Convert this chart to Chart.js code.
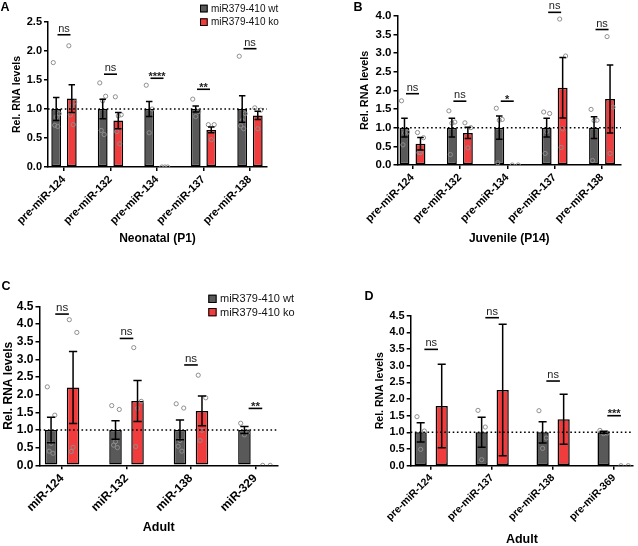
<!DOCTYPE html>
<html><head><meta charset="utf-8">
<script src="https://cdn.jsdelivr.net/npm/chart.js@4.4.1/dist/chart.umd.min.js"></script>
<style>
html,body{margin:0;padding:0;background:#fff;}
#wrap{position:relative;width:638px;height:546px;overflow:hidden;}
canvas{position:absolute;left:0;top:0;}
</style></head><body>
<div id="wrap">
<canvas id="cA" width="638" height="546"></canvas>
<canvas id="cB" width="638" height="546"></canvas>
<canvas id="cC" width="638" height="546"></canvas>
<canvas id="cD" width="638" height="546"></canvas>
</div>
<script>
// ---------------- DATA ----------------
const legendLabels = ['miR379-410 wt', 'miR379-410 ko'];
const yTitle = 'Rel. RNA levels';

// Panel A – Neonatal (P1)
const catsA = ['pre-miR-124', 'pre-miR-132', 'pre-miR-134', 'pre-miR-137', 'pre-miR-138'];
const wtMeanA = [1.0, 1.0, 1.0, 1.0, 1.0];
const koMeanA = [1.18, 0.80, 0.0, 0.64, 0.89];
const wtSemA = [0.20, 0.17, 0.13, 0.05, 0.23];
const koSemA = [0.24, 0.14, 0.0, 0.05, 0.07];
const wtPtsA = [[1.80, 0.92, 0.86, 0.72, 0.70], [1.45, 1.22, 1.14, 0.63, 0.56], [1.41, 1.00, 0.59], [1.17, 0.96, 0.87], [1.91, 0.92, 0.80, 0.71, 0.66]];
const koPtsA = [[2.09, 1.12, 1.05, 0.90, 0.73], [1.21, 0.90, 0.88, 0.61, 0.40], [0, 0, 0], [0.73, 0.73, 0.47], [1.02, 0.98, 0.66]];
const sigA = ['ns', 'ns', '****', '**', 'ns'];
const sigLevelA = [2.28, 1.60, 1.53, 1.34, 2.04];

// Panel B – Juvenile (P14)
const catsB = ['pre-miR-124', 'pre-miR-132', 'pre-miR-134', 'pre-miR-137', 'pre-miR-138'];
const wtMeanB = [1.0, 1.0, 1.0, 1.0, 1.0];
const koMeanB = [0.57, 0.86, 0.0, 2.07, 1.77];
const wtSemB = [0.25, 0.25, 0.31, 0.25, 0.29];
const koSemB = [0.17, 0.15, 0.0, 0.81, 0.91];
const wtPtsB = [[1.72, 0.88, 0.86, 0.54], [1.45, 1.15, 1.12, 0.28], [1.52, 1.22, 1.20, 0.06], [1.42, 1.38, 0.89, 0.31], [1.49, 1.20, 1.19, 0.12]];
const koPtsB = [[0.87, 0.73, 0.33, 0.33], [1.13, 1.00, 0.46], [0, 0], [3.91, 2.92, 0.97, 0.47], [3.44, 1.55, 0.31]];
const sigB = ['ns', 'ns', '*', 'ns', 'ns'];
const sigLevelB = [1.91, 1.71, 1.71, 4.09, 3.63];

// Panel C – Adult (mature miRNAs)
const catsC = ['miR-124', 'miR-132', 'miR-138', 'miR-329'];
const wtMeanC = [1.0, 1.0, 1.0, 1.0];
const koMeanC = [2.20, 1.82, 1.54, 0.0];
const wtSemC = [0.36, 0.26, 0.28, 0.10];
const koSemC = [1.02, 0.58, 0.42, 0.0];
const wtPtsC = [[2.22, 1.42, 0.62, 0.40, 0.34], [1.69, 1.58, 0.67, 0.57, 0.50], [1.74, 1.62, 0.70, 0.54, 0.40], [1.19, 0.95, 0.86]];
const koPtsC = [[4.12, 3.76, 0.51, 0.39], [3.33, 1.81, 1.61, 0.53], [2.55, 1.91, 0.99, 0.70], [0, 0]];
const sigC = ['ns', 'ns', 'ns', '**'];
const sigLevelC = [4.28, 3.59, 2.84, 1.61];

// Panel D – Adult (pre-miRNAs)
const catsD = ['pre-miR-124', 'pre-miR-137', 'pre-miR-138', 'pre-miR-369'];
const wtMeanD = [1.0, 1.0, 1.0, 1.0];
const koMeanD = [1.79, 2.27, 1.39, 0.0];
const wtSemD = [0.29, 0.45, 0.32, 0.03];
const koSemD = [1.25, 1.97, 0.75, 0.0];
const wtPtsD = [[1.47, 1.04, 0.49], [1.66, 1.16, 0.18], [1.65, 0.83, 0.52], [1.06, 0.98, 0.96]];
const koPtsD = [[], [], [], [0, 0]];
const sigD = ['ns', 'ns', 'ns', '***'];
const sigLevelD = [3.49, 4.44, 2.54, 1.50];

// ---------------- STYLE ----------------
const FAM = "'Liberation Sans', Arial, Helvetica, sans-serif";
const WT_COLOR = '#595959';
const KO_COLOR = '#f03c3c';
const PT_COLOR = '#8e8e8e';
const W = 638, H = 546;

function buildPanel(id, p) {
  const cp = p.catPct, bp = p.barPct;
  const side = cp / 4;
  const bwU = cp * bp / 2;
  const jit = [-0.3, 0.3, 0, -0.15, 0.15];
  const pts = (arr, sgn) => arr.flatMap((vals, i) => vals.map((v, k) => ({x: i + sgn * side + jit[k % jit.length] * bwU, y: v})));
  const lhY = p.yTitleSize * 1.2, lhX = p.xTitleSize * 1.2;
  const box = p.box;

  const overlay = {
    id: 'overlay' + id,
    afterDatasetsDraw(chart) {
      const ctx = chart.ctx, ys = chart.scales.y, ca = chart.chartArea;
      ctx.save();
      ctx.strokeStyle = '#000';
      ctx.lineWidth = 1.5;
      [[p.wtMean, p.wtSem], [p.koMean, p.koSem]].forEach(([m, s], d) => {
        chart.getDatasetMeta(d).data.forEach((el, i) => {
          if (!s[i]) return;
          const x = el.x, half = el.width * 0.33;
          const t = ys.getPixelForValue(m[i] + s[i]);
          const b = ys.getPixelForValue(Math.max(0, m[i] - s[i]));
          ctx.beginPath();
          ctx.moveTo(x, t); ctx.lineTo(x, b);
          ctx.moveTo(x - half, t); ctx.lineTo(x + half, t);
          ctx.moveTo(x - half, b); ctx.lineTo(x + half, b);
          ctx.stroke();
        });
      });
      const y1 = ys.getPixelForValue(1);
      ctx.setLineDash([1.6, 2.6]);
      ctx.beginPath();
      ctx.moveTo(ca.left, y1); ctx.lineTo(ca.right, y1);
      ctx.stroke();
      ctx.restore();
    },
    afterDraw(chart) {
      const ctx = chart.ctx, ys = chart.scales.y, xs = chart.scales.x;
      ctx.save();
      // significance bars
      p.sig.forEach((txt, i) => {
        const cx = xs.getPixelForValue(i);
        const y = ys.getPixelForValue(p.sigLevel[i]);
        ctx.strokeStyle = '#000';
        ctx.lineWidth = 1.6;
        ctx.beginPath();
        ctx.moveTo(cx - p.sigHalf, y); ctx.lineTo(cx + p.sigHalf, y);
        ctx.stroke();
        ctx.fillStyle = '#222';
        ctx.textAlign = 'center';
        ctx.textBaseline = 'alphabetic';
        if (txt.indexOf('*') >= 0) {
          ctx.font = 'bold ' + p.starSize + 'px ' + FAM;
          ctx.fillText(txt, cx, y + 1.5);
        } else {
          ctx.font = p.nsSize + 'px ' + FAM;
          ctx.fillText(txt, cx, y - 3);
        }
      });
      // legend
      if (p.legend) {
        const L = p.legend;
        [WT_COLOR, KO_COLOR].forEach((c, k) => {
          const yy = L.y + k * L.gap;
          ctx.fillStyle = c;
          ctx.fillRect(L.x, yy, L.size, L.size);
          ctx.strokeStyle = '#000';
          ctx.lineWidth = 1;
          ctx.strokeRect(L.x + 0.5, yy + 0.5, L.size - 1, L.size - 1);
          ctx.fillStyle = '#111';
          ctx.font = L.font + 'px ' + FAM;
          ctx.textAlign = 'left';
          ctx.textBaseline = 'middle';
          ctx.fillText(chart.data.datasets[k].label, L.tx, yy + L.size / 2 + 0.5);
        });
      }
      // panel letter
      ctx.fillStyle = '#000';
      ctx.font = 'bold 12.5px ' + FAM;
      ctx.textAlign = 'center';
      ctx.textBaseline = 'middle';
      ctx.fillText(p.letter, p.letterPos[0], p.letterPos[1]);
      ctx.restore();
    }
  };

  return new Chart(document.getElementById(id), {
    type: 'bar',
    data: {
      datasets: [
        {type: 'bar', label: legendLabels[0], data: p.wtMean.map((v, i) => ({x: i, y: v})),
         backgroundColor: WT_COLOR, borderColor: '#000', borderWidth: 1.5, borderSkipped: false,
         categoryPercentage: cp, barPercentage: bp, order: 3},
        {type: 'bar', label: legendLabels[1], data: p.koMean.map((v, i) => ({x: i, y: v})),
         backgroundColor: KO_COLOR, borderColor: '#000', borderWidth: 1.5, borderSkipped: false,
         categoryPercentage: cp, barPercentage: bp, order: 3},
        {type: 'scatter', label: 'wt points', data: pts(p.wtPts, -1), pointRadius: 2.1,
         pointBorderWidth: 1, pointBorderColor: PT_COLOR, pointBackgroundColor: 'rgba(0,0,0,0)', order: 1},
        {type: 'scatter', label: 'ko points', data: pts(p.koPts, 1), pointRadius: 2.1,
         pointBorderWidth: 1, pointBorderColor: PT_COLOR, pointBackgroundColor: 'rgba(0,0,0,0)', order: 1}
      ]
    },
    options: {
      responsive: false, animation: false, devicePixelRatio: 1,
      events: [],
      layout: {padding: {left: p.padLeft, right: W - box.right, top: box.top, bottom: 0}},
      plugins: {legend: {display: false}, tooltip: {enabled: false}},
      scales: {
        x: {
          type: 'linear', min: p.xMin, max: p.xMax, offset: false, bounds: 'data',
          afterBuildTicks: s => { s.ticks = p.cats.map((c, i) => ({value: i})); },
          afterFit: s => { s.height = H - box.bottom; },
          grid: {display: true, drawOnChartArea: false, drawTicks: true, tickLength: 4, color: '#000', lineWidth: 1.5, offset: false},
          border: {display: true, color: '#000', width: 1.5},
          ticks: {autoSkip: false, minRotation: 45, maxRotation: 45, padding: 2, color: '#000',
                  font: {family: FAM, size: p.xTickSize, weight: 'bold'},
                  callback: v => (p.cats[v] !== undefined ? p.cats[v] : '')},
          title: {display: true, text: p.xTitle, color: '#000',
                  font: {family: FAM, size: p.xTitleSize, weight: 'bold', lineHeight: 1.2},
                  padding: {top: 0, bottom: H - lhX / 2 - p.xTitleY}}
        },
        y: {
          min: 0, max: p.yMax,
          afterFit: s => { s.width = box.left - p.padLeft; },
          grid: {display: true, drawOnChartArea: false, drawTicks: true, tickLength: 4, color: '#000', lineWidth: 1.5},
          border: {display: true, color: '#000', width: 1.5},
          ticks: {autoSkip: false, stepSize: 0.5, padding: 2, color: '#000', font: {family: FAM, size: p.yTickSize, weight: 'bold'},
                  callback: v => Number(v).toFixed(1)},
          title: {display: true, text: yTitle, color: '#000',
                  font: {family: FAM, size: p.yTitleSize, weight: 'bold', lineHeight: 1.2},
                  padding: {top: p.yTitleX - p.padLeft - lhY / 2, bottom: 0}}
        }
      }
    },
    plugins: [overlay]
  });
}

buildPanel('cA', {
  cats: catsA, wtMean: wtMeanA, koMean: koMeanA, wtSem: wtSemA, koSem: koSemA,
  wtPts: wtPtsA, koPts: koPtsA, sig: sigA, sigLevel: sigLevelA,
  yMax: 2.5, xMin: -0.344, xMax: 4.366, catPct: 0.67, barPct: 0.63,
  box: {left: 48, right: 267, top: 22, bottom: 167}, padLeft: 0,
  yTitleX: 17, xTitleY: 239, xTitle: 'Neonatal (P1)',
  xTickSize: 11, yTickSize: 11, yTitleSize: 10.5, xTitleSize: 12,
  nsSize: 11, starSize: 11, sigHalf: 6.5,
  legend: {x: 200, y: 4.7, size: 7.7, gap: 13.6, tx: 211, font: 10},
  letter: 'A', letterPos: [5, 7.5]
});

buildPanel('cB', {
  cats: catsB, wtMean: wtMeanB, koMean: koMeanB, wtSem: wtSemB, koSem: koSemB,
  wtPts: wtPtsB, koPts: koPtsB, sig: sigB, sigLevel: sigLevelB,
  yMax: 4.0, xMin: -0.316, xMax: 4.40, catPct: 0.675, barPct: 0.62,
  box: {left: 397.5, right: 621, top: 15.7, bottom: 165}, padLeft: 330,
  yTitleX: 365, xTitleY: 238.7, xTitle: 'Juvenile (P14)',
  xTickSize: 11, yTickSize: 11.5, yTitleSize: 10.8, xTitleSize: 12,
  nsSize: 11, starSize: 11, sigHalf: 6.5,
  legend: null,
  letter: 'B', letterPos: [358, 7.5]
});

buildPanel('cC', {
  cats: catsC, wtMean: wtMeanC, koMean: koMeanC, wtSem: wtSemC, koSem: koSemC,
  wtPts: wtPtsC, koPts: koPtsC, sig: sigC, sigLevel: sigLevelC,
  yMax: 4.5, xMin: -0.35, xMax: 3.35, catPct: 0.683, barPct: 0.57,
  box: {left: 39.5, right: 278, top: 306.3, bottom: 465.3}, padLeft: 0,
  yTitleX: 8.3, xTitleY: 528, xTitle: 'Adult',
  xTickSize: 12, yTickSize: 12, yTitleSize: 12, xTitleSize: 12.5,
  nsSize: 11.5, starSize: 11.5, sigHalf: 6.8,
  legend: {x: 208.3, y: 294.7, size: 8.3, gap: 13.3, tx: 220, font: 11},
  letter: 'C', letterPos: [6, 287]
});

buildPanel('cD', {
  cats: catsD, wtMean: wtMeanD, koMean: koMeanD, wtSem: wtSemD, koSem: koSemD,
  wtPts: wtPtsD, koPts: koPtsD, sig: sigD, sigLevel: sigLevelD,
  yMax: 4.5, xMin: -0.336, xMax: 3.31, catPct: 0.69, barPct: 0.58,
  box: {left: 410.7, right: 633, top: 315.7, bottom: 465.7}, padLeft: 360,
  yTitleX: 379.7, xTitleY: 539.7, xTitle: 'Adult',
  xTickSize: 10.5, yTickSize: 11, yTitleSize: 10.5, xTitleSize: 12.5,
  nsSize: 11, starSize: 11, sigHalf: 6.8,
  legend: null,
  letter: 'D', letterPos: [369, 297]
});
</script>
</body></html>
